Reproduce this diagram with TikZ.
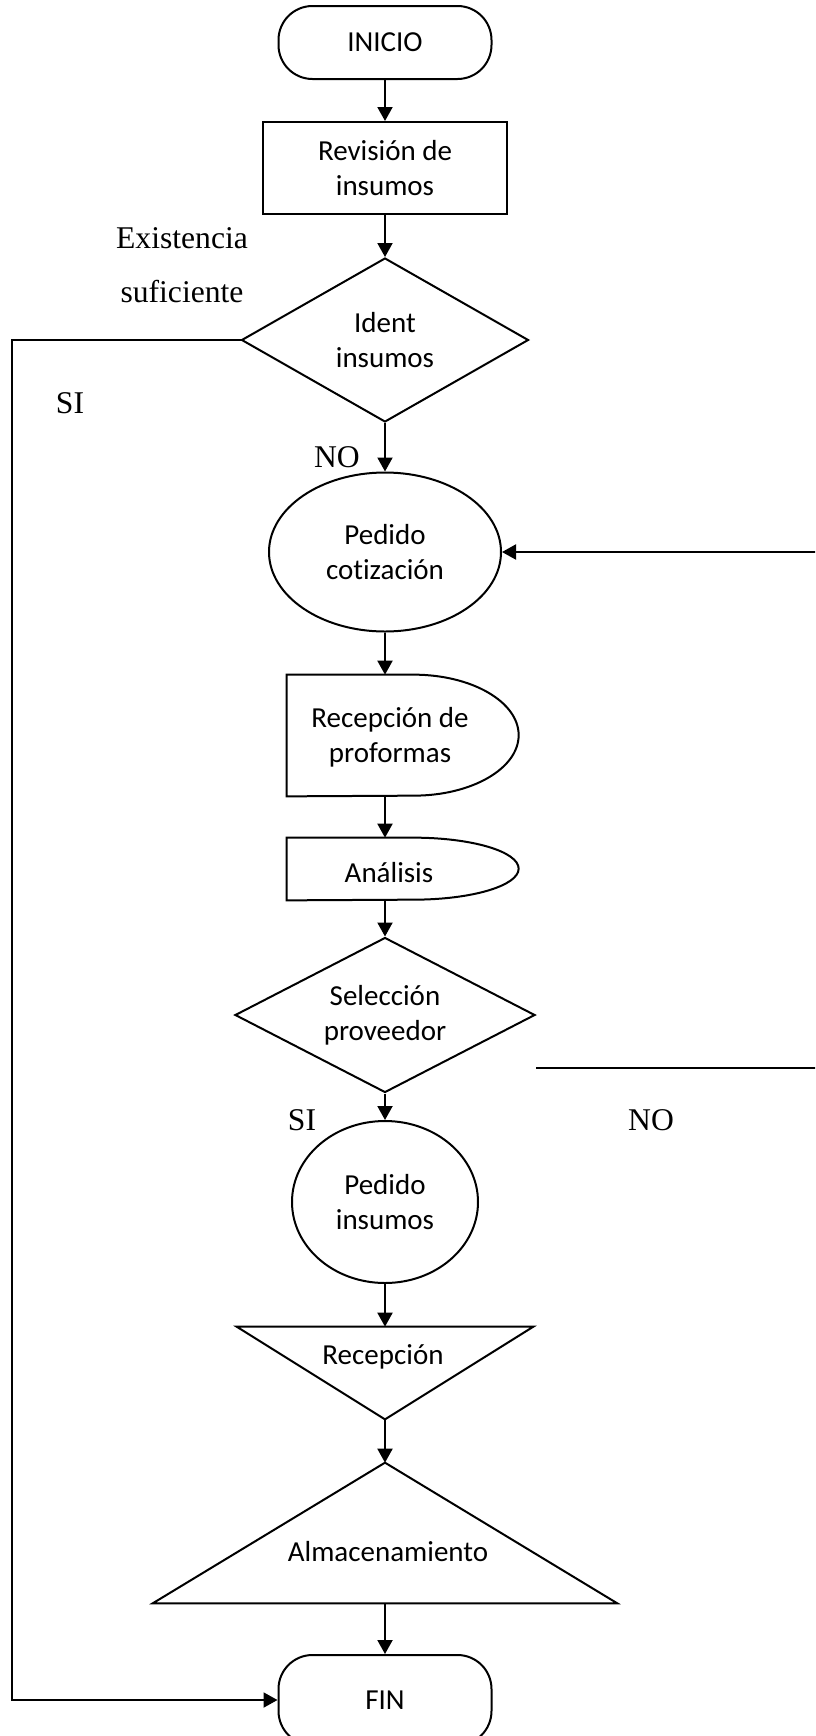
\documentclass[tikz,border=0pt]{standalone}
\usepackage{fontspec}
\setmainfont{Carlito}[Ligatures=NoCommon]
\newfontfamily\romana{Liberation Serif}
\usetikzlibrary{positioning, arrows.meta, shapes.geometric}

\tikzset{
  linea/.style={line width=0.04cm},
  caja/.style={linea, draw, align=center, font=\fontsize{16.5}{20}\selectfont},
  terminal/.style={caja, rectangle, rounded corners=0.68cm, minimum width=4.26cm},
  proceso/.style={caja, rectangle, minimum width=4.88cm, minimum height=1.84cm},
  decision/.style={caja, diamond, aspect=1.8, inner sep=0pt},
  conector/.style={caja, ellipse, inner sep=0pt},
  hueco/.style={rectangle, inner sep=0pt},
  texto/.style={align=center, font=\fontsize{16.5}{20}\selectfont},
  etiqueta/.style={align=center, font=\romana\fontsize{18}{31}\selectfont},
  flecha/.style={linea, -{Triangle[length=0.28cm,width=0.3cm]}}
}

\begin{document}
\begin{tikzpicture}
  \useasboundingbox (0,0) rectangle (16.3,-34.72);
  \clip (0,0) rectangle (16.3,-34.72);

  % main column
  \node[terminal, minimum height=1.46cm] (inicio) at (7.7,-0.85) {INICIO};
  \node[proceso] (rev) at (7.7,-3.36) {Revisión de\\insumos};
  \node[decision, minimum width=5.74cm, minimum height=3.28cm] (ident) at (7.7,-6.80) {Ident\\insumos};
  \node[conector, minimum width=4.64cm, minimum height=3.18cm] (cotiz) at (7.7,-11.04) {Pedido\\cotización};

  % delay boxes: flat left side, rounded right side
  \node[hueco, minimum width=4.64cm, minimum height=2.42cm] (prof) at (8.06,-14.71) {};
  \draw[linea] (prof.north west) -- ++(2.54,0)
    arc[start angle=90, end angle=-90, x radius=2.1, y radius=1.21] -- (prof.south west) -- cycle;
  \node[texto] (prof-t) at (7.80,-14.74) {Recepción de\\proformas};

  \node[hueco, minimum width=4.64cm, minimum height=1.24cm] (anal) at (8.06,-17.38) {};
  \draw[linea] (anal.north west) -- ++(2.54,0)
    arc[start angle=90, end angle=-90, x radius=2.1, y radius=0.62] -- (anal.south west) -- cycle;
  \node[texto] (anal-t) at (7.78,-17.46) {Análisis};

  \node[decision, minimum width=6.00cm, minimum height=3.10cm] (selec) at (7.7,-20.30) {Selección\\proveedor};
  \node[conector, minimum width=3.72cm, minimum height=3.24cm] (pins) at (7.7,-24.04) {Pedido\\insumos};

  % triangles
  \node[hueco, minimum width=5.92cm, minimum height=1.84cm] (recep) at (7.7,-27.46) {};
  \draw[linea] (recep.north west) -- (recep.north east) -- (recep.south) -- cycle;
  \node[texto] (recep-t) at (7.66,-27.14) {Recepción};

  \node[hueco, minimum width=9.28cm, minimum height=2.80cm] (alma) at (7.7,-30.66) {};
  \draw[linea] (alma.south west) -- (alma.south east) -- (alma.north) -- cycle;
  \node[texto] (alma-t) at (7.76,-31.04) {Almacenamiento};

  \node[terminal, minimum height=1.80cm] (fin) at (7.7,-34.00) {FIN};

  % labels
  \node[etiqueta] (exist) at (3.64,-5.30) {Existencia\\suficiente};
  \node[etiqueta] (si1) at (1.40,-8.06) {SI};
  \node[etiqueta] (no1) at (6.74,-9.14) {NO};
  \node[etiqueta] (si2) at (6.04,-22.40) {SI};
  \node[etiqueta] (no2) at (13.02,-22.40) {NO};

  % return paths
  \coordinate (izq) at (0.24,-6.64);
  \coordinate (der) at (16.44,-21.36);

  \draw[flecha] (inicio.south) -- (rev.north);
  \draw[flecha] (rev.south) -- (ident.north);
  \draw[flecha] (ident.south) -- (cotiz.north);
  \draw[flecha] (cotiz.south) -- (cotiz.south |- prof.north);
  \draw[flecha] (cotiz.south |- prof.south) -- (cotiz.south |- anal.north);
  \draw[flecha] (selec.north |- anal.south) -- (selec.north);
  \draw[flecha] (selec.south) -- (pins.north);
  \draw[flecha] (pins.south) -- (recep.north);
  \draw[flecha] (recep.south) -- (alma.north);
  \draw[flecha] (alma.south) -- (fin.north);
  \draw[flecha] (ident.west) -- (ident.west -| izq) |- (fin.west);
  \draw[flecha] (selec.east |- der) -- (der) |- (cotiz.east);
\end{tikzpicture}
\end{document}
